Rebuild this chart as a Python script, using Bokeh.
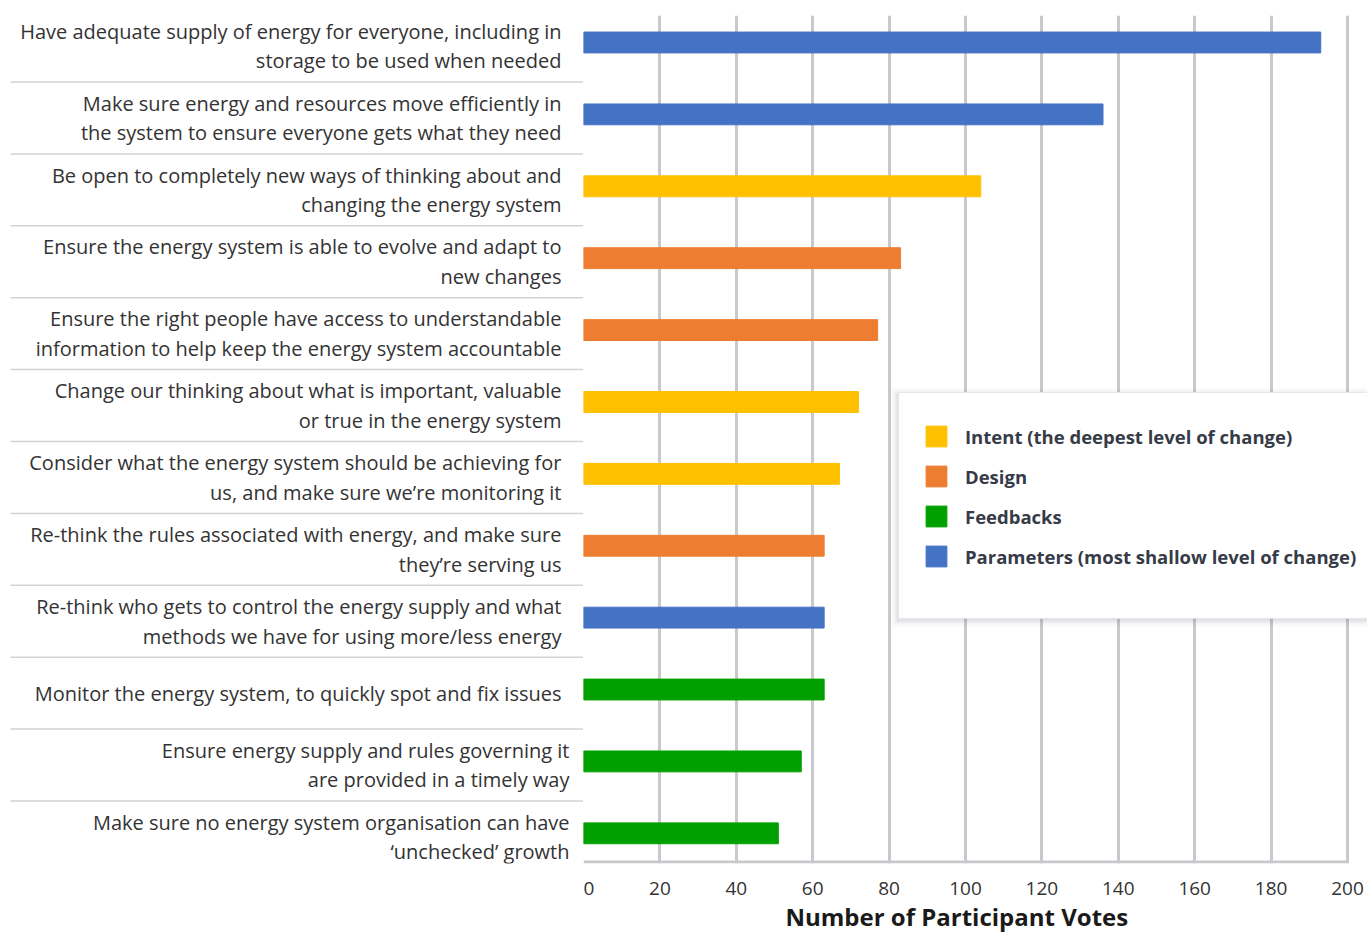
from bokeh.plotting import figure
from bokeh.layouts import row
from bokeh.models import Range1d, Legend, LegendItem, FixedTicker, Title
from bokeh.core.properties import value
from bokeh.embed import file_html
from bokeh.resources import INLINE

# Priorities for change, top to bottom
labels = [
    "Have adequate supply of energy for everyone, including in\nstorage to be used when needed",
    "Make sure energy and resources move efficiently in\nthe system to ensure everyone gets what they need",
    "Be open to completely new ways of thinking about and\nchanging the energy system",
    "Ensure the energy system is able to evolve and adapt to\nnew changes",
    "Ensure the right people have access to understandable\ninformation to help keep the energy system accountable",
    "Change our thinking about what is important, valuable\nor true in the energy system",
    "Consider what the energy system should be achieving for\nus, and make sure we\u2019re monitoring it",
    "Re-think the rules associated with energy, and make sure\nthey\u2019re serving us",
    "Re-think who gets to control the energy supply and what\nmethods we have for using more/less energy",
    "Monitor the energy system, to quickly spot and fix issues",
    "Ensure energy supply and rules governing it\nare provided in a timely way",
    "Make sure no energy system organisation can have\n\u2018unchecked\u2019 growth",
]
votes = [193, 136, 104, 83, 77, 72, 67, 63, 63, 63, 57, 51]
levels = ["Parameters", "Parameters", "Intent", "Design", "Design", "Intent",
          "Intent", "Design", "Parameters", "Feedbacks", "Feedbacks", "Feedbacks"]

level_names = ["Intent", "Design", "Feedbacks", "Parameters"]
level_labels = ["Intent (the deepest level of change)", "Design", "Feedbacks",
                "Parameters (most shallow level of change)"]
level_colors = ["#ffc000", "#ed7d31", "#00a000", "#4472c4"]

x_ticks = [0, 20, 40, 60, 80, 100, 120, 140, 160, 180, 200]
x_title = "Number of Participant Votes"

FONT = "Open Sans"
TEXT = "#333333"
GRID = "#c9c9cd"

rows = list(range(len(labels)))
y_range = Range1d(11.42, -0.3755)

TOP, BOTTOM, H = 15, 71, 934

# ---- bar panel ----
p = figure(width=784, height=H, x_range=Range1d(0, 205.24), y_range=y_range,
           output_backend="svg", toolbar_location=None, y_axis_location=None,
           min_border_left=0, min_border_right=0, min_border_top=TOP,
           min_border_bottom=BOTTOM)
p.outline_line_color = None
p.ygrid.grid_line_color = None
p.xgrid.grid_line_color = GRID
p.xgrid.grid_line_width = 3
p.xaxis.ticker = FixedTicker(ticks=x_ticks)
p.xaxis.axis_line_color = None
p.xaxis.major_tick_line_color = None
p.xaxis.minor_tick_line_color = None
p.xaxis.major_tick_out = 0
p.xaxis.major_label_standoff = 18
p.xaxis.major_label_text_font = FONT
p.xaxis.major_label_text_font_size = "19px"
p.xaxis.major_label_text_color = TEXT

# axis title, set slightly left of the frame centre
p.add_layout(Title(text=x_title, align="left", offset=202, text_font=FONT,
                   text_font_style="bold", text_font_size="24px",
                   text_color="#1a1a1a", standoff=0), "below")

# baseline along the bottom of the value range
px_y = 1.0 / 71.9
px_x = 1.0 / 3.82
p.segment(x0=[x_ticks[0]], x1=[x_ticks[-1]], y0=[y_range.start - 1.5 * px_y],
          y1=[y_range.start - 1.5 * px_y], line_color=GRID, line_width=3)

items = []
for name, lab, col in zip(level_names, level_labels, level_colors):
    ys = [r for r, lv in zip(rows, levels) if lv == name]
    vs = [v for v, lv in zip(votes, levels) if lv == name]
    r = p.hbar(y=ys, right=vs, left=0, height=0.29, fill_color=col, line_color=col)
    items.append(LegendItem(label=lab, renderers=[r]))

# legend panel with a soft shadow
bx0, bx1 = 82.46, 215
by_top, by_bot = 4.868, 8.011
for k, a in zip([8, 6, 4, 2], [0.015, 0.025, 0.04, 0.06]):
    p.quad(left=[bx0 - k * px_x], right=[bx1], top=[by_top - (k - 3) * px_y],
           bottom=[by_bot + (k + 1) * px_y], fill_color="#30364a", fill_alpha=a,
           line_color=None)
p.quad(left=[bx0], right=[bx1], top=[by_top], bottom=[by_bot],
       fill_color="white", line_color="#e4e6ec", line_width=1)

legend = Legend(items=items, location=(340, 294), padding=0, margin=0,
                spacing=14, glyph_width=26, glyph_height=26, label_height=26,
                label_standoff=16, label_text_font=FONT,
                label_text_font_style="bold", label_text_font_size="18.5px",
                label_text_color="#363b47", border_line_color=None,
                background_fill_alpha=0)
p.add_layout(legend, "center")

# ---- label panel ----
q = figure(width=583, height=H, x_range=Range1d(0, 583), y_range=y_range,
           output_backend="svg", toolbar_location=None,
           x_axis_location=None, y_axis_location=None,
           min_border_left=0, min_border_right=0, min_border_top=TOP,
           min_border_bottom=BOTTOM)
q.outline_line_color = None
q.grid.grid_line_color = None
label_right = [561] * 10 + [569] * 2
q.text(x=label_right, y=[r + 0.05 for r in rows], text=labels,
       text_align="right", text_baseline="middle", text_font=value(FONT),
       text_font_size="20px", text_color=TEXT, text_line_height=1.1)
seps = [r + 0.55 for r in rows[:-1]]
q.segment(x0=[10] * len(seps), x1=[583] * len(seps), y0=seps, y1=seps,
          line_color="#d2d2d4", line_width=1.5)

layout = row(q, p)
open("out.html", "w").write(file_html(layout, INLINE))
